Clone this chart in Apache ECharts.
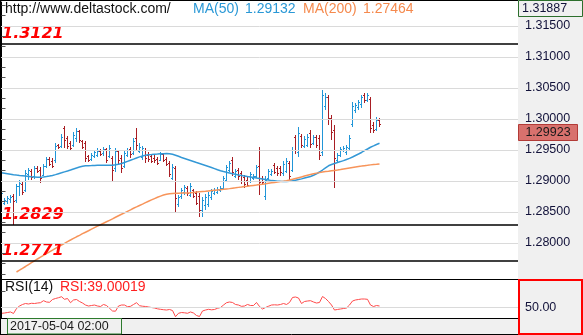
<!DOCTYPE html>
<html>
<head>
<meta charset="utf-8">
<script src="https://cdn.jsdelivr.net/npm/echarts@6/dist/echarts.min.js"></script>
<style>
html,body{margin:0;padding:0;background:#fff;}
#chart{width:583px;height:335px;}
</style>
</head>
<body>
<div id="chart"></div>
<script>
// hourly bars: open / high / low / close
const opens = [
1.2868,1.2865,1.2868,1.2871,1.2876,1.2869,1.2892,1.2895,1.2885,1.2911,
1.2916,1.2908,1.2921,1.2918,1.2910,1.2924,1.2935,1.2932,1.2934,1.2958,
1.2956,1.2985,1.2969,1.2961,1.2958,1.2969,1.2981,1.2965,1.2961,1.2940,
1.2935,1.2940,1.2942,1.2948,1.2945,1.2952,1.2940,1.2937,1.2921,1.2948,
1.2937,1.2924,1.2942,1.2952,1.2945,1.2969,1.2948,1.2939,1.2950,1.2942,
1.2940,1.2937,1.2935,1.2934,1.2944,1.2935,1.2929,1.2905,1.2921,1.2863,
1.2876,1.2882,1.2889,1.2877,1.2885,1.2881,1.2876,1.2853,1.2861,1.2863,
1.2874,1.2881,1.2882,1.2885,1.2889,1.2902,1.2918,1.2934,1.2908,1.2918,
1.2913,1.2906,1.2902,1.2900,1.2905,1.2908,1.2924,1.2905,1.2876,1.2905,
1.2911,1.2926,1.2921,1.2921,1.2913,1.2916,1.2929,1.2918,1.2971,1.2947,
1.2973,1.2956,1.2958,1.2977,1.2961,1.2971,1.2969,1.2947,1.3021,1.3035,
1.3002,1.2982,1.2934,1.2942,1.2950,1.2947,1.2953,1.2992,1.3015,1.3019,
1.3024,1.3039,1.3031,1.3032,1.2990,1.2984,1.2998
];
const highs = [
1.2887,1.2873,1.2876,1.2877,1.2879,1.2895,1.2902,1.2898,1.2918,1.2921,
1.2919,1.2924,1.2924,1.2923,1.2927,1.2939,1.2939,1.2937,1.2961,1.2960,
1.2976,1.2989,1.2973,1.2965,1.2979,1.2985,1.2982,1.2966,1.2965,1.2942,
1.2945,1.2950,1.2953,1.2952,1.2955,1.2953,1.2958,1.2940,1.2953,1.2950,
1.2942,1.2950,1.2953,1.2955,1.2969,1.2985,1.2961,1.2956,1.2953,1.2947,
1.2944,1.2942,1.2939,1.2947,1.2945,1.2939,1.2932,1.2927,1.2924,1.2877,
1.2889,1.2894,1.2892,1.2897,1.2887,1.2884,1.2881,1.2874,1.2879,1.2882,
1.2887,1.2889,1.2890,1.2892,1.2908,1.2926,1.2932,1.2939,1.2919,1.2921,
1.2916,1.2910,1.2906,1.2915,1.2911,1.2926,1.2955,1.2908,1.2908,1.2919,
1.2919,1.2929,1.2924,1.2924,1.2932,1.2937,1.2932,1.2955,1.2974,1.2987,
1.2976,1.2973,1.2976,1.2982,1.2974,1.2974,1.2974,1.3047,1.3042,1.3039,
1.3006,1.2990,1.2945,1.2955,1.2956,1.2958,1.2974,1.3027,1.3026,1.3031,
1.3039,1.3042,1.3042,1.3035,1.2995,1.3003,1.3002
];
const lows = [
1.2861,1.2861,1.2863,1.2865,1.2829,1.2865,1.2876,1.2877,1.2882,1.2902,
1.2902,1.2903,1.2913,1.2897,1.2908,1.2921,1.2924,1.2921,1.2929,1.2952,
1.2953,1.2953,1.2952,1.2950,1.2955,1.2963,1.2961,1.2952,1.2931,1.2931,
1.2932,1.2937,1.2939,1.2940,1.2940,1.2929,1.2937,1.2898,1.2915,1.2926,
1.2913,1.2921,1.2939,1.2937,1.2942,1.2950,1.2945,1.2934,1.2929,1.2931,
1.2929,1.2929,1.2926,1.2932,1.2931,1.2924,1.2906,1.2902,1.2848,1.2858,
1.2871,1.2877,1.2876,1.2874,1.2873,1.2861,1.2842,1.2842,1.2853,1.2858,
1.2869,1.2877,1.2879,1.2882,1.2885,1.2898,1.2915,1.2908,1.2905,1.2902,
1.2895,1.2889,1.2890,1.2897,1.2902,1.2905,1.2877,1.2895,1.2869,1.2902,
1.2908,1.2911,1.2908,1.2908,1.2908,1.2913,1.2902,1.2915,1.2944,1.2939,
1.2953,1.2953,1.2955,1.2953,1.2958,1.2953,1.2934,1.2940,1.3015,1.2990,
1.2966,1.2889,1.2931,1.2939,1.2947,1.2942,1.2950,1.2987,1.3010,1.3015,
1.3018,1.3026,1.3027,1.2977,1.2977,1.2981,1.2987
];
const closes = [
1.2881,1.2869,1.2873,1.2874,1.2868,1.2892,1.2897,1.2882,1.2913,1.2918,
1.2906,1.2921,1.2916,1.2905,1.2924,1.2935,1.2927,1.2924,1.2956,1.2955,
1.2971,1.2966,1.2956,1.2953,1.2974,1.2981,1.2966,1.2955,1.2937,1.2934,
1.2942,1.2947,1.2948,1.2944,1.2952,1.2934,1.2953,1.2918,1.2948,1.2934,
1.2921,1.2945,1.2950,1.2944,1.2965,1.2958,1.2955,1.2953,1.2937,1.2935,
1.2932,1.2934,1.2929,1.2944,1.2934,1.2927,1.2911,1.2923,1.2873,1.2874,
1.2885,1.2890,1.2881,1.2892,1.2876,1.2865,1.2853,1.2869,1.2874,1.2877,
1.2884,1.2885,1.2887,1.2889,1.2905,1.2923,1.2929,1.2915,1.2916,1.2908,
1.2900,1.2895,1.2894,1.2911,1.2908,1.2923,1.2898,1.2898,1.2902,1.2916,
1.2916,1.2915,1.2913,1.2915,1.2927,1.2932,1.2908,1.2950,1.2950,1.2977,
1.2958,1.2968,1.2971,1.2960,1.2971,1.2958,1.2942,1.3039,1.3035,1.3002,
1.2979,1.2937,1.2942,1.2952,1.2953,1.2955,1.2969,1.3021,1.3023,1.3027,
1.3035,1.3031,1.3039,1.2985,1.2982,1.2998,1.29923
];
// moving averages
const ma50 = [
1.29134,1.29126,1.29118,1.29110,1.29102,1.29095,1.29089,1.29084,1.29079,1.29074,
1.29069,1.29065,1.29061,1.29061,1.29065,1.29071,1.29079,1.29090,1.29103,1.29118,
1.29132,1.29147,1.29161,1.29177,1.29194,1.29210,1.29226,1.29237,1.29244,1.29247,
1.29248,1.29250,1.29252,1.29253,1.29253,1.29253,1.29253,1.29255,1.29261,1.29271,
1.29282,1.29298,1.29316,1.29334,1.29352,1.29371,1.29389,1.29403,1.29415,1.29423,
1.29427,1.29432,1.29435,1.29439,1.29440,1.29442,1.29440,1.29432,1.29416,1.29398,
1.29379,1.29363,1.29347,1.29331,1.29315,1.29298,1.29282,1.29266,1.29250,1.29234,
1.29218,1.29200,1.29182,1.29166,1.29152,1.29140,1.29129,1.29118,1.29108,1.29098,
1.29090,1.29082,1.29073,1.29065,1.29056,1.29047,1.29039,1.29031,1.29023,1.29015,
1.29006,1.29002,1.28997,1.28994,1.28992,1.28992,1.28995,1.29003,1.29013,1.29023,
1.29034,1.29047,1.29060,1.29073,1.29092,1.29116,1.29145,1.29177,1.29213,1.29245,
1.29266,1.29282,1.29298,1.29313,1.29329,1.29347,1.29365,1.29387,1.29411,1.29435,
1.29460,1.29489,1.29516,1.29544,1.29566,1.29589,1.29608
];
const ma200 = [
null,null,null,null,null,
1.27532,1.27561,1.27592,1.27621,1.27652,
1.27682,1.27711,1.27742,1.27771,1.27800,1.27829,1.27858,1.27885,1.27913,1.27940,
1.27968,1.27995,1.28023,1.28048,1.28074,1.28100,1.28124,1.28150,1.28174,1.28198,
1.28223,1.28247,1.28271,1.28294,1.28318,1.28342,1.28366,1.28390,1.28415,1.28439,
1.28463,1.28487,1.28511,1.28535,1.28560,1.28582,1.28605,1.28627,1.28650,1.28673,
1.28695,1.28716,1.28737,1.28756,1.28773,1.28786,1.28794,1.28798,1.28802,1.28803,
1.28805,1.28806,1.28808,1.28811,1.28816,1.28821,1.28826,1.28831,1.28835,1.28840,
1.28845,1.28850,1.28855,1.28860,1.28865,1.28871,1.28877,1.28884,1.28890,1.28897,
1.28903,1.28910,1.28916,1.28923,1.28929,1.28935,1.28942,1.28948,1.28956,1.28965,
1.28971,1.28977,1.28984,1.28990,1.28997,1.29006,1.29016,1.29027,1.29040,1.29053,
1.29066,1.29079,1.29092,1.29105,1.29118,1.29127,1.29135,1.29144,1.29152,1.29158,
1.29165,1.29171,1.29177,1.29185,1.29194,1.29202,1.29210,1.29218,1.29226,1.29234,
1.29240,1.29247,1.29253,1.29260,1.29265,1.29269,1.29274
];
// RSI(14)
const rsi = [
38.6,39.2,40.1,41.1,38.3,47.5,52.1,54.9,56.7,55.8,
57.1,56.7,57.6,58.2,61.9,59.5,58.9,64.1,65.9,67.4,
69.2,64.4,65.9,58.2,63.2,64.1,60.4,57.6,53.9,52.1,
53.0,53.9,52.1,51.2,54.9,53.0,47.9,42.9,42.5,52.1,
53.9,53.9,50.8,51.5,54.9,58.2,52.7,51.7,51.2,50.3,
49.3,48.4,46.9,46.0,45.3,44.7,45.7,43.8,32.4,38.7,
40.1,39.6,38.7,41.1,39.2,34.6,32.8,42.9,44.7,46.0,
45.1,45.7,47.9,49.3,53.9,58.2,59.5,58.6,54.9,53.9,
51.5,52.1,54.9,53.0,53.0,58.6,51.2,46.6,49.3,51.7,
53.9,54.3,53.9,54.9,56.7,54.9,58.6,67.8,68.7,66.8,
56.7,60.4,61.3,61.9,59.5,57.6,58.6,69.6,65.9,60.4,
53.9,44.7,45.7,46.6,47.5,48.4,53.9,61.3,63.2,64.1,
65.0,65.0,64.4,53.9,51.2,53.0,52.1
];
const priceTicks = [1.280, 1.285, 1.290, 1.295, 1.300, 1.305, 1.310, 1.315];
const levels = [1.3121, 1.2829, 1.2771];
const rsiTicks = [50];
const axisTop = 1.31887;
const siteText = 'http://www.deltastock.com/';
const ma50Text = ['MA(50)', '1.29132'];
const ma200Text = ['MA(200)', '1.27464'];
const rsiText = ['RSI(14)', 'RSI:39.00019'];
const timeText = '2017-05-04 02:00';

const BLUE = '#2196d8';
const RED = '#a81e24';
const GRID = '#dadada';
const FONT = '"Liberation Sans", Arial, sans-serif';

const chart = echarts.init(document.getElementById('chart'), null, {renderer: 'canvas'});

const pxPerUnit = 6200;
const plotTop = 2, plotBottom = 279;
const priceMin = axisTop - (plotBottom - plotTop) / pxPerUnit;
const barStep = 3, plotWidth = 518;
const xMin = -0.5, xMax = xMin + plotWidth / barStep;

const ohlc = opens.map((o, i) => [i, o, highs[i], lows[i], closes[i]]);

// tick marks: three steps per labelled interval
const tickMarks = [];
for (let k = 0; k <= 30; k++) tickMarks.push(+(1.27 + k * 0.005 / 3).toFixed(6));

function renderBar(params, api) {
  const i = api.value(0);
  const o = api.value(1), h = api.value(2), l = api.value(3), c = api.value(4);
  const pH = api.coord([i, h]), pL = api.coord([i, l]);
  const pO = api.coord([i, o]), pC = api.coord([i, c]);
  const x = Math.floor(pH[0]);
  const top = Math.round(pH[1]), bot = Math.round(pL[1]);
  const color = c >= o ? BLUE : RED;
  return {
    type: 'group',
    children: [
      {type: 'rect', shape: {x: x, y: top, width: 1, height: Math.max(1, bot - top)}, style: {fill: color}},
      {type: 'rect', shape: {x: x - 1, y: Math.round(pO[1]), width: 1, height: 1}, style: {fill: color}},
      {type: 'rect', shape: {x: x + 1, y: Math.round(pC[1]), width: 1, height: 1}, style: {fill: color}}
    ]
  };
}

const option = {
  animation: false,
  backgroundColor: '#ffffff',
  grid: [
    {left: 0, top: plotTop, width: plotWidth, height: plotBottom - plotTop},
    {left: 0, top: 280, width: plotWidth, height: 38}
  ],
  xAxis: [
    {type: 'value', gridIndex: 0, min: xMin, max: xMax, show: false},
    {type: 'value', gridIndex: 1, min: xMin, max: xMax, show: false}
  ],
  yAxis: [
    {
      type: 'value', gridIndex: 0, position: 'right', min: priceMin, max: axisTop, z: 10,
      axisLine: {show: true, lineStyle: {color: '#000', width: 1}},
      axisTick: {show: true, customValues: tickMarks, length: 4, lineStyle: {color: '#555'}},
      axisLabel: {show: true, customValues: priceTicks, margin: 7, color: '#12123a', fontSize: 12.5, fontFamily: FONT,
                  formatter: v => v.toFixed(5)},
      splitLine: {show: false}
    },
    {
      type: 'value', gridIndex: 1, position: 'right', min: 30, max: 100, z: 10,
      axisLine: {show: true, lineStyle: {color: '#000', width: 1}},
      axisTick: {show: true, customValues: [50, 80], length: 4, lineStyle: {color: '#555'}},
      axisLabel: {show: true, customValues: rsiTicks, margin: 7, color: '#12123a', fontSize: 12.5, fontFamily: FONT,
                  formatter: v => v.toFixed(2)},
      splitLine: {show: false}
    }
  ],
  series: [
    {
      type: 'custom', name: 'price', xAxisIndex: 0, yAxisIndex: 0, z: 3, silent: true, clip: true,
      renderItem: renderBar,
      encode: {x: 0, y: [1, 2, 3, 4]},
      data: ohlc
    },
    {
      type: 'line', name: 'MA(50)', xAxisIndex: 0, yAxisIndex: 0, z: 4, silent: true,
      data: ma50.map((v, i) => [i, v]), showSymbol: false,
      lineStyle: {color: '#3398d6', width: 1.5}
    },
    {
      type: 'line', name: 'MA(200)', xAxisIndex: 0, yAxisIndex: 0, z: 4, silent: true,
      data: ma200.map((v, i) => [i, v]).filter(d => d[1] !== null), showSymbol: false,
      lineStyle: {color: '#f7945a', width: 1.5}
    },
    {
      // horizontal price levels
      type: 'line', xAxisIndex: 0, yAxisIndex: 0, z: 5, silent: true,
      data: [], showSymbol: false,
      markLine: {
        silent: true, symbol: ['none', 'none'], precision: 5,
        lineStyle: {color: '#000', width: 1.5, type: 'solid', opacity: 1},
        label: {
          show: true, position: 'insideStartTop', distance: [2, 2],
          formatter: p => Number(p.value).toFixed(4),
          color: '#ff0000', fontSize: 16, fontWeight: 'bold', fontStyle: 'italic',
          fontFamily: '"DejaVu Sans", sans-serif'
        },
        data: levels.map(v => ({yAxis: v}))
      }
    },
    {
      type: 'line', name: 'RSI(14)', xAxisIndex: 1, yAxisIndex: 1, z: 4, silent: true,
      data: rsi.map((v, i) => [i, v]), showSymbol: false,
      lineStyle: {color: '#ff4a4a', width: 1}
    }
  ]
};

chart.setOption(option);

function txt(x, y, text, fill, font, align) {
  return {type: 'text', x: x, y: y, z: 30, silent: true,
    style: {text: text, fill: fill, font: font, textAlign: align || 'left', textVerticalAlign: 'middle',
            align: align || 'left', verticalAlign: 'middle'}};
}
function line(x1, y1, x2, y2, color, w, z) {
  return {type: 'line', z: z || 25, silent: true, shape: {x1: x1, y1: y1, x2: x2, y2: y2},
    style: {stroke: color, lineWidth: w || 1}};
}
// horizontal grid rule placed through the axis scale
function rule(axisIdx, value) {
  const y = Math.round(chart.convertToPixel({yAxisIndex: axisIdx}, value)) + 0.5;
  return line(1, y, plotWidth, y, GRID, 1, 0);
}

const last = closes[closes.length - 1];
const lastY = chart.convertToPixel({yAxisIndex: 0}, last);
const f14 = '14px ' + FONT;
const f12 = '12.5px ' + FONT;

chart.setOption({
  graphic: [
    // grid rules
    ...priceTicks.map(v => rule(0, v)),
    ...rsiTicks.map(v => rule(1, v)),
    // axis panels and footer
    {type: 'rect', z: 1, silent: true, shape: {x: 518, y: 0, width: 65, height: 335}, style: {fill: '#f0f0f0'}},
    {type: 'rect', z: 1, silent: true, shape: {x: 0, y: 318, width: 518, height: 17}, style: {fill: '#f0f0f0'}},
    line(0, 0.5, 518, 0.5, '#000'),
    line(0, 279.5, 518, 279.5, '#000'),
    line(0, 318.5, 518, 318.5, '#000'),
    line(0, 334.5, 583, 334.5, '#000'),
    line(0.5, 0, 0.5, 335, '#000'),
    // axis maximum
    {type: 'rect', z: 26, silent: true, shape: {x: 518.5, y: 0.5, width: 64, height: 16},
     style: {fill: '#f0f0f0', stroke: '#2d6f2d', lineWidth: 1}},
    txt(522, 9, axisTop.toFixed(5), '#12123a', f12),
    // last price marker
    {type: 'rect', z: 26, silent: true, shape: {x: 518.5, y: Math.round(lastY) + 0.5, width: 59, height: 16},
     style: {fill: '#d8716d', stroke: '#b23a36', lineWidth: 1}},
    txt(548, Math.round(lastY) + 8.5, last.toFixed(5), '#1a1a1a', f12, 'center'),
    // RSI axis frame
    {type: 'rect', z: 26, silent: true, shape: {x: 519, y: 280, width: 63, height: 54},
     style: {fill: 'none', stroke: '#ff0000', lineWidth: 2}},
    // time box
    {type: 'rect', z: 26, silent: true, shape: {x: 7.5, y: 318.5, width: 114, height: 15.5},
     style: {fill: '#f0f0f0', stroke: '#2d7a2d', lineWidth: 1}},
    txt(10, 326.5, timeText, '#1a1a1a', f12),
    // header
    txt(5, 9, siteText, '#111', f14),
    txt(193, 9, ma50Text[0], '#2a98d6', f14),
    txt(245, 9, ma50Text[1], '#2a98d6', f14),
    txt(303, 9, ma200Text[0], '#f58a4e', f14),
    txt(363, 9, ma200Text[1], '#f58a4e', f14),
    // RSI caption
    txt(5, 287, rsiText[0], '#111', f14),
    txt(60, 287, rsiText[1], '#ff2020', f14)
  ]
});
</script>
</body>
</html>
